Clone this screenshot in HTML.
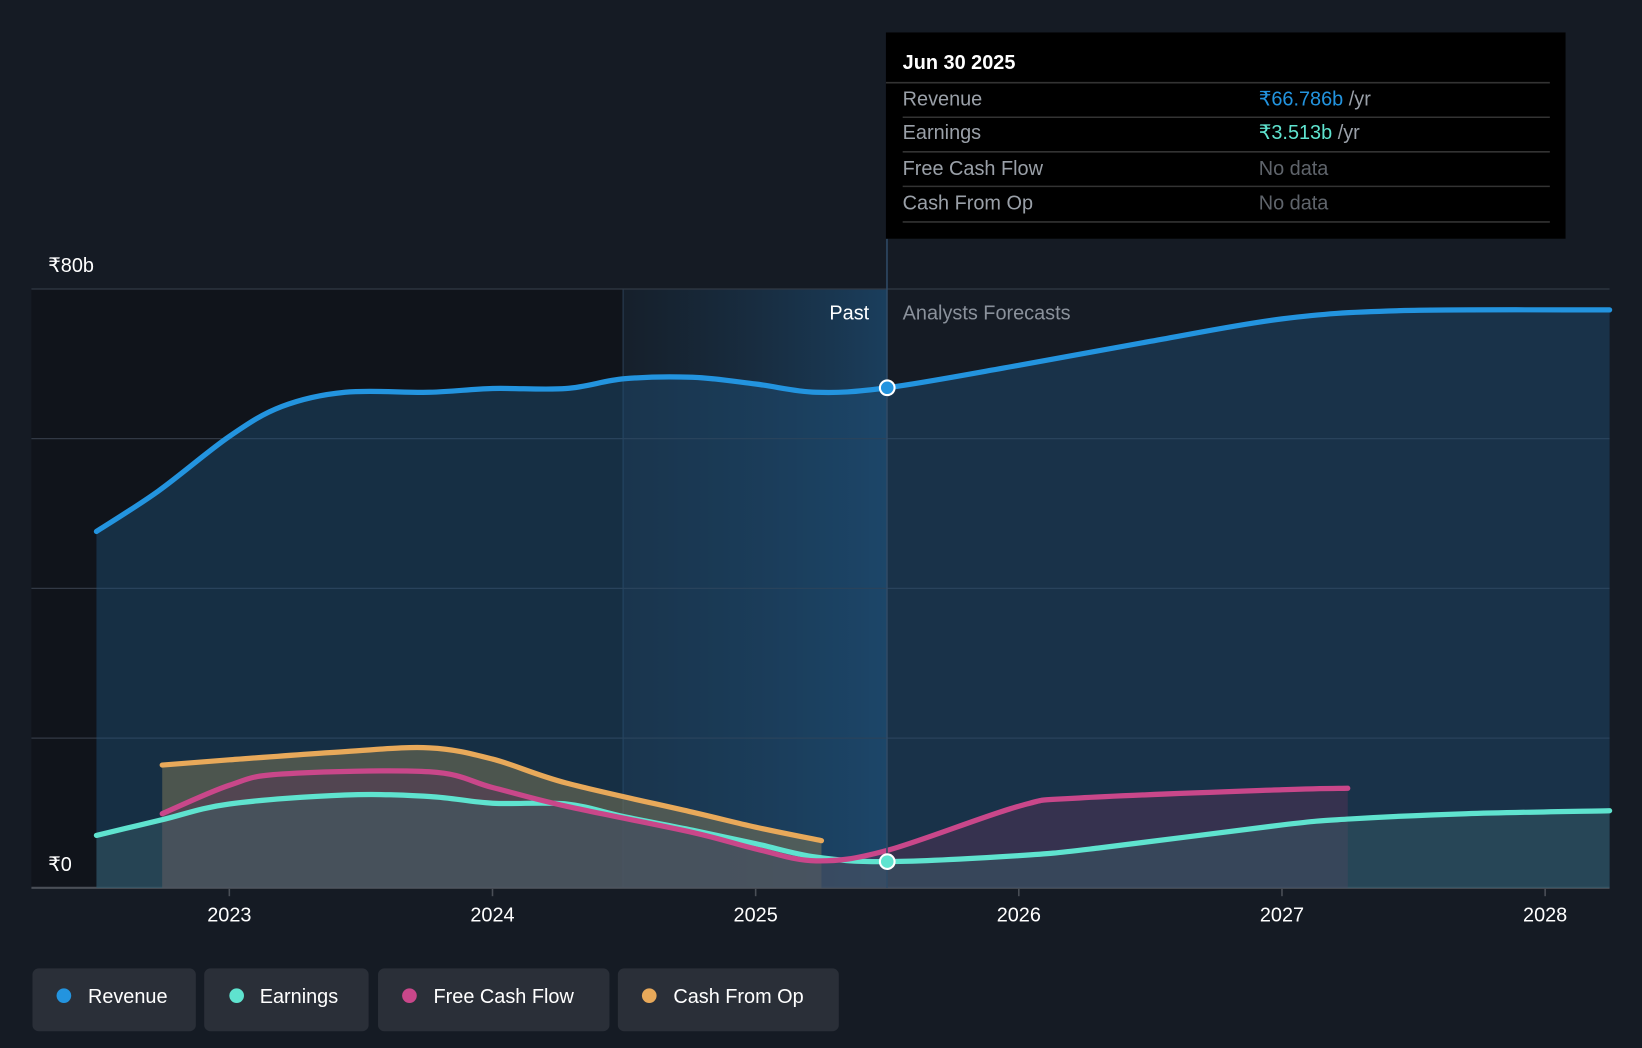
<!DOCTYPE html>
<html><head><meta charset="utf-8"><style>
html,body{margin:0;padding:0;background:#151b24;}
svg{display:block;font-family:"Liberation Sans",sans-serif;}
</style></head><body>
<svg id="chart" width="1642" height="1048" viewBox="0 0 1568 1001" preserveAspectRatio="none">
<defs>
<linearGradient id="pastGrad" x1="0" x2="1" y1="0" y2="0"><stop offset="0" stop-color="#1a3a55" stop-opacity="0.15"/><stop offset="1" stop-color="#1c4a70" stop-opacity="0.75"/></linearGradient>
</defs>
<rect x="0" y="0" width="1568" height="1001" fill="#151b24"/>
<rect x="30" y="276" width="565" height="572" fill="#10141b"/>
<rect x="595" y="276" width="252" height="572" fill="url(#pastGrad)"/>
<line x1="595" y1="276" x2="595" y2="848" stroke="#2a3f55" stroke-width="1"/>
<g id="grid"></g>
<g id="areas"></g>
<g id="lines"></g>
<line x1="847" y1="228" x2="847" y2="848" stroke="#2f4a66" stroke-width="1.5"/>
<text x="830" y="305" fill="#ffffff" font-size="19" text-anchor="end">Past</text>
<text x="862" y="305" fill="#8a919b" font-size="19">Analysts Forecasts</text>
<g id="axis"></g>
<g id="dots"></g>
<g>
<rect x="846" y="31" width="649" height="197" fill="#000"/>
<text x="862" y="66" fill="#fff" font-size="19" font-weight="bold">Jun 30 2025</text>
<line x1="846" y1="79" x2="1480" y2="79" stroke="#333" stroke-width="1.5"/>
<text x="862" y="101" fill="#9aa0a8" font-size="19">Revenue</text>
<text x="1202" y="101" font-size="19"><tspan fill="#2394df">₹66.786b</tspan><tspan fill="#9aa0a8"> /yr</tspan></text>
<line x1="862" y1="112" x2="1480" y2="112" stroke="#333" stroke-width="1.5"/>
<text x="862" y="133" fill="#9aa0a8" font-size="19">Earnings</text>
<text x="1202" y="133" font-size="19"><tspan fill="#5fe3cf">₹3.513b</tspan><tspan fill="#9aa0a8"> /yr</tspan></text>
<line x1="862" y1="145" x2="1480" y2="145" stroke="#333" stroke-width="1.5"/>
<text x="862" y="167" fill="#9aa0a8" font-size="19">Free Cash Flow</text>
<text x="1202" y="167" fill="#5f646b" font-size="19">No data</text>
<line x1="862" y1="178" x2="1480" y2="178" stroke="#333" stroke-width="1.5"/>
<text x="862" y="200" fill="#9aa0a8" font-size="19">Cash From Op</text>
<text x="1202" y="200" fill="#5f646b" font-size="19">No data</text>
<line x1="862" y1="212" x2="1480" y2="212" stroke="#333" stroke-width="1.5"/>
</g>
<g>
<g><rect x="31" y="925" width="156" height="60" rx="6" fill="#2a2f38"/><circle cx="61" cy="951" r="7" fill="#2394df"/><text x="84" y="958" fill="#fff" font-size="19">Revenue</text></g>
<g><rect x="195" y="925" width="157" height="60" rx="6" fill="#2a2f38"/><circle cx="226" cy="951" r="7" fill="#5fe3cf"/><text x="248" y="958" fill="#fff" font-size="19">Earnings</text></g>
<g><rect x="361" y="925" width="221" height="60" rx="6" fill="#2a2f38"/><circle cx="391" cy="951" r="7" fill="#c9478a"/><text x="414" y="958" fill="#fff" font-size="19">Free Cash Flow</text></g>
<g><rect x="590" y="925" width="211" height="60" rx="6" fill="#2a2f38"/><circle cx="620" cy="951" r="7" fill="#e8a95a"/><text x="643" y="958" fill="#fff" font-size="19">Cash From Op</text></g>
</g>
</svg>
<script>
const yTicks = [0, 20, 40, 60, 80];
const yTickLabels = ["₹0", "", "", "", "₹80b"];
const xYears = [2023, 2024, 2025, 2026, 2027, 2028];
const revenueT = [2022.495, 2022.73, 2023.0, 2023.2, 2023.44, 2023.76, 2024.0, 2024.28, 2024.5, 2024.76, 2025.0, 2025.23, 2025.5, 2026.0, 2026.5, 2027.0, 2027.45, 2028.245];
const revenueV = [47.6, 53.0, 60.3, 64.3, 66.2, 66.2, 66.7, 66.7, 68.0, 68.2, 67.3, 66.2, 66.8, 69.8, 73.0, 76.0, 77.1, 77.2];
const earningsT = [2022.495, 2022.745, 2023.0, 2023.44, 2023.76, 2024.0, 2024.28, 2024.5, 2024.76, 2025.0, 2025.23, 2025.5, 2026.0, 2026.3, 2027.0, 2027.26, 2027.7, 2028.245];
const earningsV = [7.0, 9.1, 11.2, 12.4, 12.2, 11.3, 11.2, 9.5, 7.7, 5.9, 4.1, 3.5, 4.3, 5.3, 8.4, 9.2, 9.9, 10.3];
const fcfT = [2022.745, 2023.0, 2023.2, 2023.76, 2024.0, 2024.28, 2024.76, 2025.0, 2025.23, 2025.5, 2026.0, 2026.23, 2027.0, 2027.25];
const fcfV = [9.9, 13.7, 15.2, 15.5, 13.4, 10.9, 7.4, 5.2, 3.6, 5.0, 10.9, 12.0, 13.1, 13.3];
const cfoT = [2022.745, 2023.0, 2023.44, 2023.76, 2024.0, 2024.28, 2024.76, 2025.0, 2025.25];
const cfoV = [16.4, 17.1, 18.2, 18.7, 17.2, 14.0, 10.1, 8.1, 6.3];

const X0 = 219, PXY = 251.3, Y0 = 848, PXV = 143/20;
const xs = t => X0 + (t - 2023) * PXY;
const ys = v => Y0 - v * PXV;
const NS = "http://www.w3.org/2000/svg";
function mk(tag, attrs, parent){const e=document.createElementNS(NS,tag);for(const k in attrs)e.setAttribute(k,attrs[k]);parent.appendChild(e);return e;}
function path(T,V){
  const p=T.map((t,i)=>[xs(t),ys(V[i])]);
  let d="M"+p[0][0]+","+p[0][1];
  for(let i=0;i<p.length-1;i++){
    const p0=p[i-1]||p[i],p1=p[i],p2=p[i+1],p3=p[i+2]||p2;
    const c1=[p1[0]+(p2[0]-p0[0])/6,p1[1]+(p2[1]-p0[1])/6];
    const c2=[p2[0]-(p3[0]-p1[0])/6,p2[1]-(p3[1]-p1[1])/6];
    d+=` C${c1[0]},${c1[1]} ${c2[0]},${c2[1]} ${p2[0]},${p2[1]}`;
  }
  return d;
}
const grid=document.getElementById('grid'), axis=document.getElementById('axis');
yTicks.forEach((v,i)=>{
  const g=mk('line',{x1:30,x2:1537,y1:ys(v),y2:ys(v),stroke:i===0?'#4a4f57':'#323945','stroke-width':i===0?2:1.2},grid);
  
  
  if(yTickLabels[i]){
    const t=mk('text',{x:46,y:ys(v)-16,fill:'#fff','font-size':19},axis);
    t.textContent=yTickLabels[i];
    
    
  }
});
xYears.forEach(yr=>{
  const x=xs(yr);
  mk('line',{x1:x,x2:x,y1:849,y2:856,stroke:'#4a4f57','stroke-width':1.5},axis);
  const t=mk('text',{x:x,y:880,fill:'#fff','font-size':19,'text-anchor':'middle'},axis);
  t.textContent=yr;
  
  
});
const areas=document.getElementById('areas'), lines=document.getElementById('lines');
const series=[
 ['revenue',revenueT,revenueV,'#2394df','#1f4f78',0.45],
 ['cash-from-op',cfoT,cfoV,'#e8a95a','#7a7458',0.55],
 ['free-cash-flow',fcfT,fcfV,'#c9478a','#5a3356',0.45],
 ['earnings',earningsT,earningsV,'#5fe3cf','#3a6068',0.45]
];
series.forEach(([n,T,V,c,fc,op])=>{
  const d=path(T,V);
  const a=mk('path',{d:d+` L${xs(T[T.length-1])},${Y0} L${xs(T[0])},${Y0} Z`,fill:fc,'fill-opacity':op},areas);
  
  
});
[series[0],series[3],series[2],series[1]].forEach(([n,T,V,c])=>{
  const l=mk('path',{d:path(T,V),fill:'none',stroke:c,'stroke-width':5,'stroke-linecap':'round'},lines);
  
  
});
const dots=document.getElementById('dots');
const d1=mk('circle',{cx:xs(2025.5),cy:ys(66.8),r:7,fill:'#2394df',stroke:'#fff','stroke-width':2},dots);


const d2=mk('circle',{cx:xs(2025.5),cy:ys(3.5),r:7,fill:'#5fe3cf',stroke:'#fff','stroke-width':2},dots);


</script>
</body></html>
